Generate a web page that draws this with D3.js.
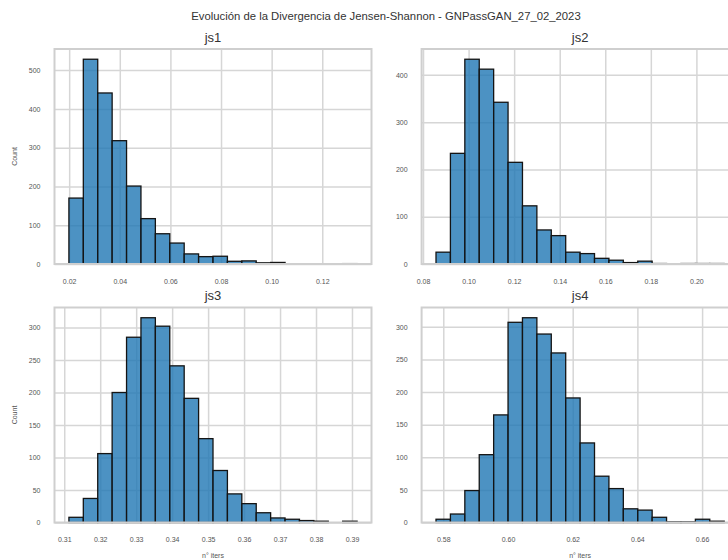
<!DOCTYPE html>
<html>
<head>
<meta charset="utf-8">
<script src="https://cdn.jsdelivr.net/npm/d3@7"></script>
<style>
  body { margin: 0; background: #fff; }
  svg { display: block; font-family: "Liberation Sans", Arial, sans-serif; }
</style>
</head>
<body>
<svg id="chart" width="728" height="560"></svg>
<script>
// histogram counts (20 bins each)
const js1Counts = [170, 528, 441, 318, 201, 117, 78, 54, 26, 19, 20, 7, 8, 3, 4, 0, 0, 0, 0, 1];
const js2Counts = [25, 234, 433, 412, 342, 215, 123, 72, 60, 25, 22, 12, 8, 3, 6, 1, 0, 1, 1, 1];
const js3Counts = [8, 37, 106, 200, 285, 315, 302, 241, 191, 129, 80, 44, 29, 15, 7, 5, 3, 2, 0, 2];
const js4Counts = [5, 13, 49, 104, 165, 307, 314, 289, 260, 191, 122, 71, 52, 21, 19, 8, 1, 1, 5, 2];

// first bin edge and bin width
const js1Bins = [0.0199, 0.005693];
const js2Bins = [0.0857, 0.006325];
const js3Bins = [0.3113, 0.004006];
const js4Bins = [0.57775, 0.004454];

const js1XTicks = [0.02, 0.04, 0.06, 0.08, 0.10, 0.12];
const js2XTicks = [0.08, 0.10, 0.12, 0.14, 0.16, 0.18, 0.20];
const js3XTicks = [0.31, 0.32, 0.33, 0.34, 0.35, 0.36, 0.37, 0.38, 0.39];
const js4XTicks = [0.58, 0.60, 0.62, 0.64, 0.66];

const js1YTicks = [0, 100, 200, 300, 400, 500];
const js2YTicks = [0, 100, 200, 300, 400];
const js3YTicks = [0, 50, 100, 150, 200, 250, 300];
const js4YTicks = [0, 50, 100, 150, 200, 250, 300];

const names = ['js1', 'js2', 'js3', 'js4'];
const suptitle = 'Evolución de la Divergencia de Jensen-Shannon - GNPassGAN_27_02_2023';

const panels = [
    { name: names[0], counts: js1Counts, bins: js1Bins, xt: js1XTicks, yt: js1YTicks, col: 0, row: 0 },
    { name: names[1], counts: js2Counts, bins: js2Bins, xt: js2XTicks, yt: js2YTicks, col: 1, row: 0 },
    { name: names[2], counts: js3Counts, bins: js3Bins, xt: js3XTicks, yt: js3YTicks, col: 0, row: 1 },
    { name: names[3], counts: js4Counts, bins: js4Bins, xt: js4XTicks, yt: js4YTicks, col: 1, row: 1 }
];

const lefts = [54.5, 421.6];
const tops = [49, 307.5];
const pw = 317, ph = 215;

const svg = d3.select('#chart');

svg.append('text')
    .attr('x', 386).attr('y', 19.5)
    .attr('text-anchor', 'middle')
    .attr('font-size', 11.3)
    .attr('fill', '#333')
    .text(suptitle);

function drawPanel(p) {
    const left = lefts[p.col], top = tops[p.row];
    const [start, width] = p.bins;
    const bars = p.counts.map((c, i) => ({ x0: start + i * width, x1: start + (i + 1) * width, c }));
    const lo = bars[0].x0, hi = bars[bars.length - 1].x1;
    const pad = (hi - lo) * 0.05;

    const x = d3.scaleLinear().domain([lo - pad, hi + pad]).range([left, left + pw]);
    const y = d3.scaleLinear().domain([0, d3.max(p.counts) * 1.05]).range([top + ph, top]);

    const g = svg.append('g');

    // grid
    g.append('g')
        .attr('transform', `translate(0,${top + ph})`)
        .call(d3.axisBottom(x).tickValues(p.xt).tickSize(-ph).tickFormat(''))
        .call(a => a.select('.domain').remove())
        .call(a => a.selectAll('line').attr('stroke', '#d6d6d6').attr('stroke-width', 1.5));
    g.append('g')
        .attr('transform', `translate(${left},0)`)
        .call(d3.axisLeft(y).tickValues(p.yt).tickSize(-pw).tickFormat(''))
        .call(a => a.select('.domain').remove())
        .call(a => a.selectAll('line').attr('stroke', '#d6d6d6').attr('stroke-width', 1.5));

    g.append('g')
        .selectAll('rect')
        .data(bars)
        .join('rect')
        .attr('x', d => x(d.x0))
        .attr('y', d => y(d.c))
        .attr('width', d => x(d.x1) - x(d.x0))
        .attr('height', d => y(0) - y(d.c))
        .attr('fill', 'rgba(31,119,180,0.8)')
        .attr('stroke', '#141414')
        .attr('stroke-width', 1.3);

    // frame
    g.append('rect')
        .attr('x', left).attr('y', top).attr('width', pw).attr('height', ph)
        .attr('fill', 'none')
        .attr('stroke', '#cfcfcf')
        .attr('stroke-width', 2);

    // tick labels
    g.append('g')
        .attr('transform', `translate(0,${top + ph})`)
        .call(d3.axisBottom(x).tickValues(p.xt).tickSize(0).tickPadding(15).tickFormat(d3.format('.2f')))
        .call(a => a.select('.domain').remove())
        .call(a => a.selectAll('text').attr('font-size', 7).attr('fill', '#555').attr('font-family', null));
    g.append('g')
        .attr('transform', `translate(${left},0)`)
        .call(d3.axisLeft(y).tickValues(p.yt).tickSize(0).tickPadding(14).tickFormat(d3.format('d')))
        .call(a => a.select('.domain').remove())
        .call(a => a.selectAll('text').attr('font-size', 7).attr('fill', '#555').attr('font-family', null));

    g.append('text')
        .attr('x', left + pw / 2).attr('y', top - 7.5)
        .attr('text-anchor', 'middle')
        .attr('font-size', 13)
        .attr('fill', '#333')
        .text(p.name);

    if (p.col === 0) {
        g.append('text')
            .attr('transform', `translate(17,${top + ph / 2}) rotate(-90)`)
            .attr('text-anchor', 'middle')
            .attr('font-size', 7)
            .attr('fill', '#555')
            .text('Count');
    }

    // only the lower row shows its x label; the upper one sits under the lower titles
    if (p.row === 1) {
        g.append('text')
            .attr('x', left + pw / 2).attr('y', top + ph + 35)
            .attr('text-anchor', 'middle')
            .attr('font-size', 7)
            .attr('fill', '#555')
            .text('n° iters');
    }
}

panels.forEach(drawPanel);
</script>
</body>
</html>
